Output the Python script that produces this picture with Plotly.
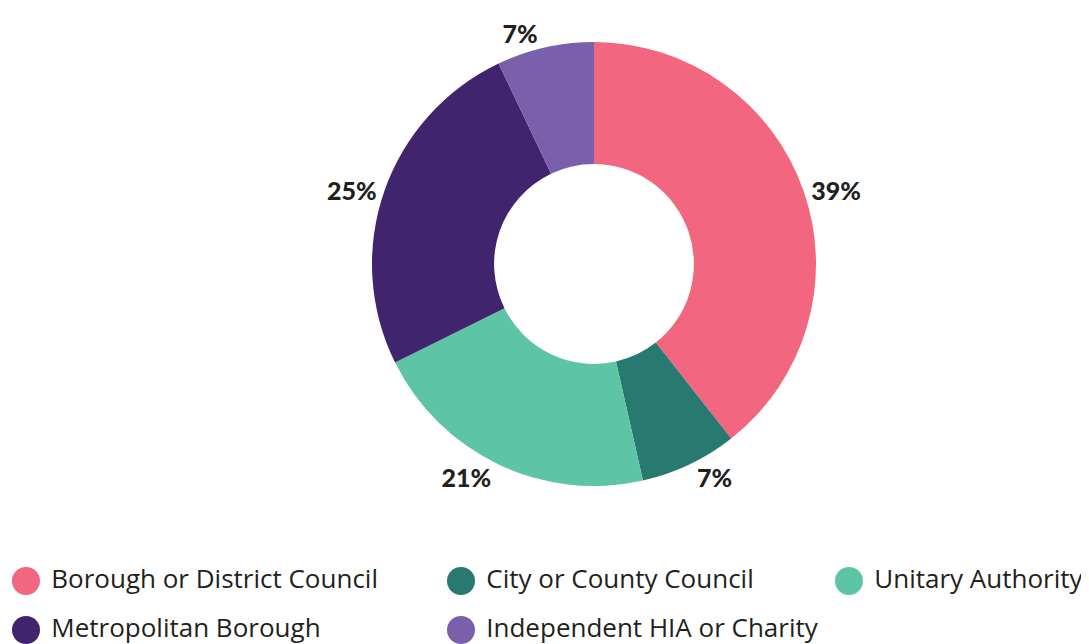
import plotly.graph_objects as go

# Share of respondents by organisation type
categories = [
    "Borough or District Council",
    "City or County Council",
    "Unitary Authority",
    "Metropolitan Borough",
    "Independent HIA or Charity",
]
shares = [39, 7, 21, 25, 7]
colours = ["#F2667F", "#287A70", "#5EC4A6", "#40246E", "#7A60AB"]

INK = "#231F20"
FONT = "'Open Sans', Lato, sans-serif"
# page body adds an 8px margin, so the figure is drawn 8px smaller
W, H = 1081, 636
PIE_CX, PIE_CY, PIE_R = 586, 256, 222
LEGEND_COL_PX = [18, 453, 841]   # column x of legend markers (px)
LEGEND_ROW0_PX, LEGEND_ROW_GAP = 573, 49

fig = go.Figure()

fig.add_trace(go.Pie(
    labels=categories,
    values=shares,
    marker=dict(colors=colours, line=dict(width=0)),
    hole=0.45,
    sort=False,
    direction="clockwise",
    textposition="outside",
    texttemplate="%{value}%",
    textfont=dict(family="Lato, sans-serif", size=25, color=INK, weight=900),
    domain=dict(
        x=[(PIE_CX - PIE_R) / W, (PIE_CX + PIE_R) / W],
        y=[(H - PIE_CY - PIE_R) / H, (H - PIE_CY + PIE_R) / H],
    ),
    showlegend=False,
    hoverinfo="label+value",
))

# custom legend: big round swatches in a 3-column grid
cols = [LEGEND_COL_PX[i % 3] for i in range(len(categories))]
rows = [i // 3 for i in range(len(categories))]
fig.add_trace(go.Scatter(
    x=cols, y=rows,
    mode="markers+text",
    text=["\u00a0" + c for c in categories],
    textposition="middle right",
    textfont=dict(family=FONT, size=26, color=INK),
    marker=dict(size=28, color=colours),
    showlegend=False,
    hoverinfo="skip",
    cliponaxis=False,
))

ppu = LEGEND_ROW_GAP
fig.update_layout(
    width=W, height=H,
    paper_bgcolor="white", plot_bgcolor="rgba(0,0,0,0)",
    margin=dict(l=0, r=0, t=0, b=0, autoexpand=False),
    font=dict(family=FONT, color=INK),
    xaxis=dict(range=[0, W], visible=False, fixedrange=True),
    yaxis=dict(range=[(H - LEGEND_ROW0_PX) / ppu, -LEGEND_ROW0_PX / ppu],
               visible=False, fixedrange=True),
)

fig.write_html("out.html")
